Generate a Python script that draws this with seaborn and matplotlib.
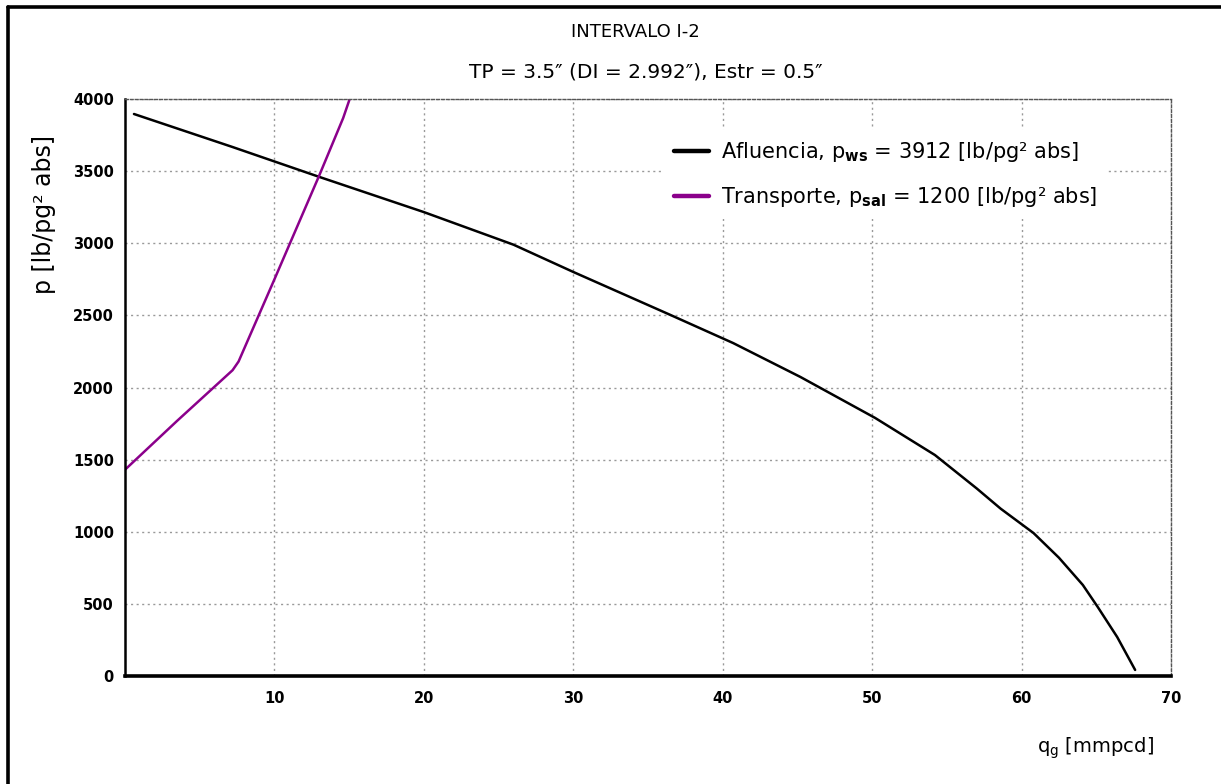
import matplotlib
matplotlib.use("Agg")
import matplotlib.pyplot as plt
from matplotlib.lines import Line2D
import seaborn as sns
import pandas as pd

# ---- data ----
q_afluencia = [0.6, 7.2, 13.0, 20.0, 26.0, 30.0, 36.5, 40.7, 45.2, 50.2,
               54.2, 57.0, 58.6, 60.8, 62.5, 64.1, 65.1, 66.4, 67.6]
p_afluencia = [3896, 3667, 3460, 3216, 2990, 2801, 2503, 2308, 2073, 1789,
               1532, 1300, 1160, 991, 820, 631, 478, 270, 42]

q_transporte = [0.0, 3.5, 7.2, 7.6, 10.0, 13.0, 14.6, 15.5]
p_transporte = [1430, 1770, 2120, 2180, 2750, 3470, 3868, 4140]

x_ticks = [10, 20, 30, 40, 50, 60, 70]
y_ticks = [0, 500, 1000, 1500, 2000, 2500, 3000, 3500, 4000]

label_af = r"Afluencia, p$_{\mathbf{ws}}$ = 3912 [lb/pg² abs]"
label_tr = r"Transporte, p$_{\mathbf{sal}}$ = 1200 [lb/pg² abs]"

df_af = pd.DataFrame({"q": q_afluencia, "p": p_afluencia})
df_tr = pd.DataFrame({"q": q_transporte, "p": p_transporte})

sns.set_style("white")
plt.rcParams["font.family"] = ["DejaVu Sans"]
plt.rcParams["text.color"] = "black"
plt.rcParams["axes.labelcolor"] = "black"
plt.rcParams["mathtext.fontset"] = "custom"
plt.rcParams["mathtext.rm"] = "DejaVu Sans"
plt.rcParams["mathtext.bf"] = "DejaVu Sans:bold"

fig = plt.figure(figsize=(12.21, 7.84), dpi=100)
ax = fig.add_axes([125/1221, 1 - 676/784, (1171-125)/1221, (676-99)/784])

sns.lineplot(data=df_af, x="q", y="p", ax=ax, color="black", lw=1.8,
             sort=False, estimator=None, label=label_af, legend=False)
sns.lineplot(data=df_tr, x="q", y="p", ax=ax, color="#8B008B", lw=1.8,
             sort=False, estimator=None, label=label_tr, legend=False)

ax.set_xlim(0, 70)
ax.set_ylim(0, 4000)
ax.set_xticks(x_ticks)
ax.set_yticks(y_ticks)
ax.grid(True, color="#999999", linestyle=(0, (1.5, 2.5)), lw=1.0)
ax.set_axisbelow(True)

for s in ["top", "right"]:
    ax.spines[s].set_linestyle((0, (2, 1.5)))
    ax.spines[s].set_color("#555555")
    ax.spines[s].set_linewidth(1.0)
ax.spines["left"].set_color("black")
ax.spines["left"].set_linewidth(1.8)
ax.spines["bottom"].set_color("black")
ax.spines["bottom"].set_linewidth(2.6)

ax.tick_params(axis="both", length=0, labelsize=10.5, labelcolor="black")
ax.tick_params(axis="x", pad=11)
ax.tick_params(axis="y", pad=8)
for t in ax.get_xticklabels() + ax.get_yticklabels():
    t.set_fontweight("bold")

ax.set_xlabel("")
ax.set_ylabel("p [lb/pg² abs]", fontsize=17, color="black")
ax.yaxis.set_label_coords(-0.066, 0.80)

fig.text(1095/1221, 1 - 748/784, r"q$_\mathrm{g}$ [mmpcd]", fontsize=14,
         ha="center", va="center", color="black")

fig.text(635/1221, 1 - 32/784, "INTERVALO I-2", fontsize=13, ha="center",
         va="center", color="black")
fig.text(646/1221, 1 - 72/784, "TP = 3.5″ (DI = 2.992″), Estr = 0.5″", fontsize=14.5,
         ha="center", va="center", color="black")

handles = [Line2D([0], [0], color="black", lw=3.2),
           Line2D([0], [0], color="#8B008B", lw=3.2)]
leg = ax.legend(handles, [label_af, label_tr], loc="upper left",
                bbox_to_anchor=(0.505, 0.965), fontsize=15, frameon=True,
                handlelength=1.7, handletextpad=0.55, labelspacing=1.0,
                borderpad=0.5)
for t in leg.get_texts():
    t.set_color("black")
leg.get_frame().set_facecolor("white")
leg.get_frame().set_edgecolor("none")
leg.get_frame().set_alpha(1.0)

# outer frame (left and top edges)
fig.add_artist(Line2D([8/1221, 8/1221], [0, 1 - 7/784], transform=fig.transFigure,
                      color="black", lw=2.6))
fig.add_artist(Line2D([8/1221, 1], [1 - 7/784, 1 - 7/784], transform=fig.transFigure,
                      color="black", lw=2.6))

fig.savefig("out.png", dpi=100, facecolor="white")
